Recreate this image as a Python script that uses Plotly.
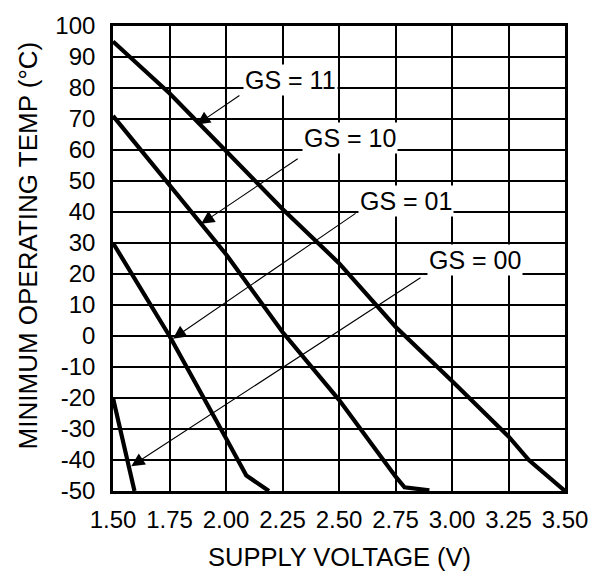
import plotly.graph_objects as go

# ---- data ----
gs11_v = [1.50, 1.75, 2.00, 2.25, 2.50, 2.75, 3.00, 3.25, 3.34, 3.50]
gs11_t = [95, 78.3, 59.7, 41, 23.5, 3, -14.5, -32.4, -40, -50]

gs10_v = [1.50, 1.75, 2.00, 2.25, 2.50, 2.75, 2.79, 2.90]
gs10_t = [71, 48.5, 26.4, 1.3, -20.6, -45.3, -48.8, -49.8]

gs01_v = [1.50, 1.75, 2.00, 2.09, 2.19]
gs01_t = [30, 0, -33, -45, -50]

gs00_v = [1.50, 1.595]
gs00_t = [-20, -50]

series = [
    ("GS = 11", gs11_v, gs11_t),
    ("GS = 10", gs10_v, gs10_t),
    ("GS = 01", gs01_v, gs01_t),
    ("GS = 00", gs00_v, gs00_t),
]

# label text positions and arrow tail/head positions (data coords)
label_names = ["GS = 11", "GS = 10", "GS = 01", "GS = 00"]
label_x = [2.287, 2.548, 2.798, 3.103]
label_y = [82.7, 64.0, 43.6, 24.4]
arrow_tail_x = [2.066, 2.324, 2.580, 2.867]
arrow_tail_y = [77.9, 57.5, 39.9, 19.1]
arrow_head_x = [1.871, 1.890, 1.765, 1.581]
arrow_head_y = [68.2, 36.2, -0.85, -42.0]

x_ticks = [1.50, 1.75, 2.00, 2.25, 2.50, 2.75, 3.00, 3.25, 3.50]
x_tick_text = ["1.50", "1.75", "2.00", "2.25", "2.50", "2.75", "3.00", "3.25", "3.50"]
y_ticks = list(range(-50, 101, 10))
y_tick_text = [str(v) for v in y_ticks]  # plain hyphen minus, as in the reference

x_title = "SUPPLY VOLTAGE (V)"
y_title = "MINIMUM OPERATING TEMP (°C)"

FONT = "Liberation Sans, Arial, sans-serif"

fig = go.Figure()
for name, xs, ys in series:
    fig.add_trace(go.Scatter(
        x=xs, y=ys, mode="lines", name=name,
        line=dict(color="black", width=4.2),
        showlegend=False, hoverinfo="skip",
    ))

annotations = []
# arrows first (drawn beneath labels)
for tx, ty, hx, hy in zip(arrow_tail_x, arrow_tail_y, arrow_head_x, arrow_head_y):
    annotations.append(dict(
        x=hx, y=hy, xref="x", yref="y",
        ax=tx, ay=ty, axref="x", ayref="y",
        text="", showarrow=True, arrowhead=2, arrowsize=2.4,
        arrowwidth=1.1, arrowcolor="black", standoff=0,
    ))
for name, lx, ly in zip(label_names, label_x, label_y):
    annotations.append(dict(
        x=lx, y=ly, xref="x", yref="y", text=name, showarrow=False,
        font=dict(family=FONT, size=25, color="black"),
        bgcolor="white", borderpad=1,
    ))
# axis titles
annotations.append(dict(
    x=0.5, y=-0.141, xref="paper", yref="paper", text=x_title, showarrow=False,
    xanchor="center", yanchor="middle",
    font=dict(family=FONT, size=25.5, color="black"),
))
annotations.append(dict(
    x=-0.186, y=0.528, xref="paper", yref="paper", text=y_title, showarrow=False,
    xanchor="center", yanchor="middle", textangle=-90,
    font=dict(family=FONT, size=26, color="black"),
))

fig.update_layout(
    width=607, height=578,
    margin=dict(l=113, r=42, t=15, b=87),
    paper_bgcolor="white", plot_bgcolor="white",
    font=dict(family=FONT, color="black"),
    annotations=annotations,
)
fig.update_xaxes(
    range=[1.5, 3.5], tickvals=x_ticks, ticktext=x_tick_text,
    showgrid=True, gridcolor="black", gridwidth=1.9,
    showline=True, linecolor="black", linewidth=2.6, mirror=True,
    ticks="", ticklabelstandoff=5, zeroline=False,
    tickfont=dict(family=FONT, size=24, color="black"),
)
fig.update_yaxes(
    range=[-50, 100], tickvals=y_ticks, ticktext=y_tick_text,
    showgrid=True, gridcolor="black", gridwidth=1.9,
    showline=True, linecolor="black", linewidth=2.6, mirror=True,
    ticks="", ticklabelstandoff=10, zeroline=False,
    tickfont=dict(family=FONT, size=24, color="black"),
)

fig.write_html(
    "out.html",
    config={"displayModeBar": False},
    post_script="document.body.style.margin='0';document.body.style.overflow='hidden';",
)
